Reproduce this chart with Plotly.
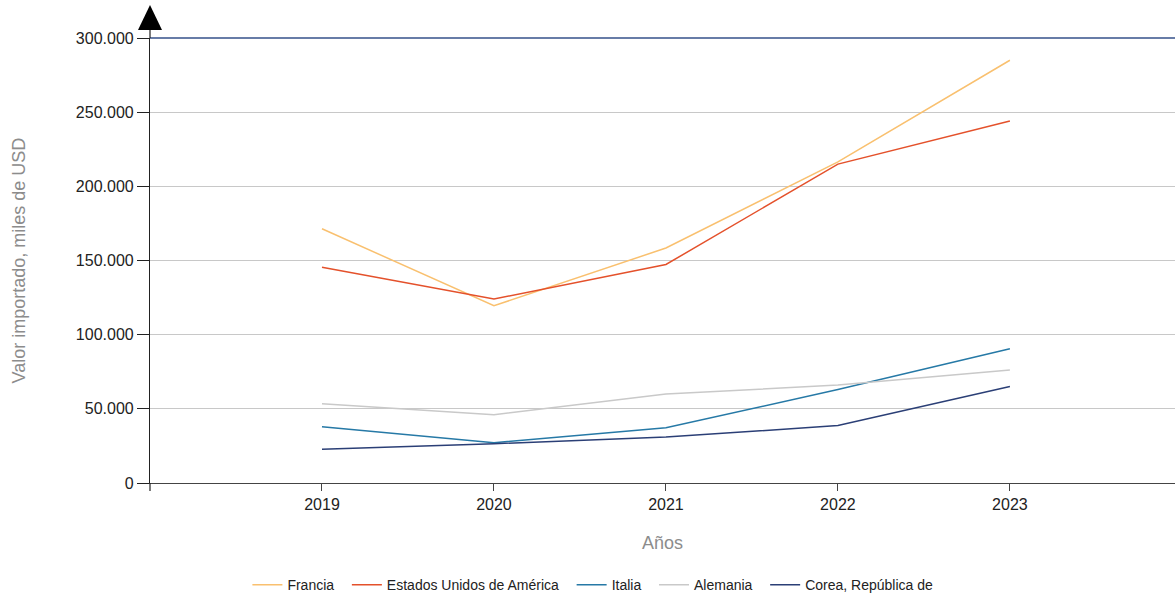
import plotly.graph_objects as go

years = [2019, 2020, 2021, 2022, 2023]

francia = [171400, 119500, 158400, 216500, 285000]
estados_unidos = [145400, 124000, 147300, 215000, 244000]
italia = [38000, 27200, 37200, 63000, 90500]
alemania = [53500, 46000, 60000, 66000, 76200]
corea = [22800, 26500, 31000, 38700, 65000]

series = [
    ("Francia", francia, "#F9C06F"),
    ("Estados Unidos de América", estados_unidos, "#E4512B"),
    ("Italia", italia, "#2679A6"),
    ("Alemania", alemania, "#C9C9C9"),
    ("Corea, República de", corea, "#2B3F76"),
]

fig = go.Figure()
for name, values, color in series:
    fig.add_trace(go.Scatter(
        x=years, y=values, name=name + "  ", mode="lines",
        line=dict(color=color, width=1.5),
    ))

font_family = "Liberation Sans, Arial, sans-serif"

fig.update_layout(
    width=1175, height=597,
    margin=dict(l=150, r=0, t=38, b=114, autoexpand=False),
    paper_bgcolor="white", plot_bgcolor="white",
    separators=",.",
    font=dict(family=font_family, size=14, color="#333333"),
    showlegend=True,
    legend=dict(
        orientation="h", xref="container", x=0.508, xanchor="center",
        yref="container", y=0.02, yanchor="middle",
        font=dict(size=14, color="#222222"),
        itemwidth=30,
    ),
    xaxis=dict(
        range=[2018, 2023.96],
        tickvals=years, ticktext=[str(y) for y in years],
        showgrid=False, zeroline=False,
        showline=True, linecolor="#444444", linewidth=1.2,
        ticks="outside", ticklen=7, tickcolor="#444444",
        tickfont=dict(size=16, color="#222222"),
    ),
    yaxis=dict(
        range=[0, 300000],
        tickvals=[0, 50000, 100000, 150000, 200000, 250000, 300000],
        tickformat=",d",
        showgrid=True, gridcolor="#c8c8c8", gridwidth=1,
        zeroline=False,
        showline=True, linecolor="#222222", linewidth=1.2,
        ticks="outside", ticklen=12, tickcolor="#222222",
        tickfont=dict(size=16, color="#222222"),
    ),
    annotations=[
        dict(text="Años", xref="paper", yref="paper", x=0.5, y=0,
             yshift=-60, showarrow=False, xanchor="center", yanchor="middle",
             font=dict(size=18, color="#8c8c8c")),
        dict(text="Valor importado, miles de USD", xref="paper", yref="paper",
             x=(18 - 150) / 1025, y=0.5, textangle=-90, showarrow=False,
             xanchor="center", yanchor="middle",
             font=dict(size=18, color="#8c8c8c")),
    ],
)

# Top reference line at the axis maximum
fig.add_shape(type="line", xref="paper", yref="paper", x0=0, x1=1,
              y0=1, y1=1, line=dict(color="#34508A", width=1.5))

# Y axis extension below zero and arrow head above the top
fig.add_shape(type="line", xref="paper", yref="paper",
              ysizemode="pixel", yanchor=0,
              x0=0, x1=0, y0=0, y1=-8, line=dict(color="#222222", width=1.2))
fig.add_shape(type="line", xref="paper", yref="paper",
              ysizemode="pixel", yanchor=1,
              x0=0, x1=0, y0=0, y1=10, line=dict(color="#222222", width=1.2))
fig.add_shape(type="path", xref="paper", yref="paper",
              xsizemode="pixel", ysizemode="pixel",
              xanchor=0, yanchor=1,
              path="M -12,8 L 12,8 L 0,33 Z",
              fillcolor="black", line=dict(color="black", width=0))

fig.write_html("out.html")
